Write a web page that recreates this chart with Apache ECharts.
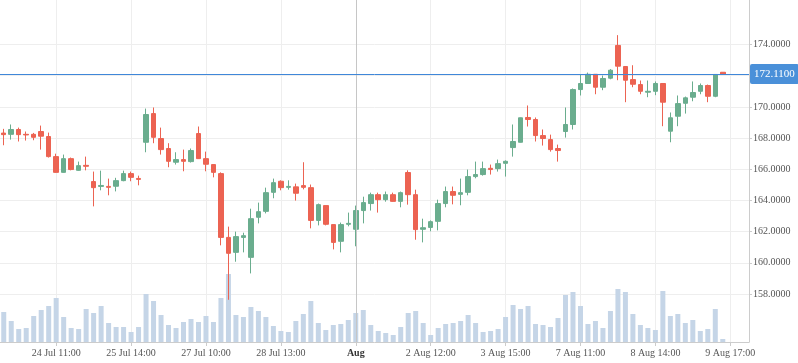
<!DOCTYPE html>
<html><head><meta charset="utf-8">
<script src="https://cdn.jsdelivr.net/npm/echarts@6/dist/echarts.min.js"></script>
<style>html,body{margin:0;padding:0;background:#fff}#c{width:798px;height:363px}</style>
</head><body><div id="c"></div>
<script>
// x-axis tick labels (every 10th slot starting at slot 7)
const tickLabels = ['24 Jul 11:00','25 Jul 14:00','27 Jul 10:00','28 Jul 13:00','Aug','2 Aug 12:00','3 Aug 15:00','7 Aug 11:00','8 Aug 14:00','9 Aug 17:00'];
const tickStart = 7, tickStep = 10, slotCount = 100;
const monthMarkSlot = 47;
const lastPrice = 172.11;

const open = [168.32,168.24,168.55,168.24,168.24,168.42,168.10,166.81,165.80,166.68,
165.93,166.25,165.21,164.90,164.90,164.91,165.27,165.72,165.41,167.73,
169.57,167.97,167.33,166.45,166.62,166.49,168.29,166.68,166.30,165.72,
161.63,160.67,161.63,160.35,162.92,163.30,164.52,165.23,164.84,164.87,
164.95,164.82,162.72,163.67,162.45,161.38,162.47,162.15,163.35,163.80,
164.37,164.05,164.37,163.94,165.79,164.37,162.15,162.27,162.66,163.80,
164.57,164.39,164.52,165.53,165.66,166.06,166.04,166.38,167.39,167.73,
169.32,169.19,168.16,167.90,167.33,168.42,168.87,171.11,171.50,172.09,
171.26,171.84,173.94,172.59,171.75,171.43,170.94,171.00,171.50,168.44,
169.40,170.23,170.62,171.00,171.37,170.68,172.22];
const close = [168.22,168.55,168.22,168.20,168.05,168.12,166.81,165.80,166.68,165.98,
166.23,166.19,164.82,164.96,164.84,165.27,165.72,165.48,165.35,169.51,
168.05,167.26,166.51,166.62,166.51,167.20,166.68,166.32,165.80,161.63,
160.61,161.68,161.74,162.83,163.28,164.50,165.14,164.82,164.90,164.46,
164.84,162.72,163.73,162.47,161.31,162.45,162.53,163.35,163.86,164.37,
164.05,164.37,163.94,164.50,164.37,162.13,162.25,162.64,163.80,164.57,
164.33,164.50,165.53,165.66,166.04,165.98,166.36,166.51,167.78,169.30,
169.19,168.16,167.97,167.26,167.20,168.87,171.11,171.50,172.09,171.26,
171.82,172.35,172.61,171.71,171.45,171.00,171.00,171.50,170.30,169.30,
170.21,170.58,170.92,171.37,170.68,172.08,172.11];
const low = [167.54,167.90,167.78,167.84,167.86,167.26,166.75,165.78,165.78,165.93,
165.90,165.93,163.62,164.65,164.33,164.58,165.23,165.23,164.97,167.09,
167.67,166.94,166.13,166.30,165.87,166.43,166.66,165.87,165.48,161.12,
157.63,160.07,160.67,159.32,162.53,163.17,164.14,164.65,164.69,163.99,
164.71,162.21,162.40,162.40,160.86,160.67,162.34,161.06,162.53,163.35,
163.22,163.92,163.92,163.56,163.73,161.48,161.31,162.02,162.08,163.56,
163.75,163.69,164.33,165.42,165.59,165.66,165.85,165.53,166.81,167.71,
168.74,167.78,167.52,167.13,166.49,168.03,168.55,170.73,171.48,170.81,
171.07,171.77,171.71,170.30,171.26,170.81,170.62,170.75,168.76,167.73,
168.76,169.57,170.36,170.81,170.30,170.62,172.11];
const high = [168.59,168.87,168.67,168.42,168.33,168.80,168.35,167.00,166.94,166.75,
166.49,166.81,165.85,165.91,165.40,165.45,165.91,165.85,165.59,169.89,
169.96,168.67,167.67,167.09,167.26,167.33,168.74,167.13,166.32,165.80,
162.32,162.00,161.93,163.47,163.86,164.82,165.40,165.29,165.29,165.08,
166.45,165.02,163.80,163.67,162.45,162.58,163.22,163.67,164.24,164.50,
164.50,164.57,164.50,164.57,165.93,164.69,162.83,162.72,164.05,164.89,
164.89,165.40,165.98,166.49,166.49,166.30,166.62,166.57,168.87,169.32,
170.09,169.32,168.55,168.22,167.58,169.96,171.18,172.09,172.20,172.09,
172.01,172.42,174.60,172.61,172.67,171.69,171.69,171.63,171.52,169.64,
170.73,170.66,171.63,171.50,171.43,172.08,172.22];
const volume = [30,21,13,14,26,32,36,44,25,14,
13,33,29,36,19,15,15,10,15,48,
41,27,17,14,20,23,20,26,20,44,
68,27,25,35,31,25,16,11,10,21,
28,41,19,12,17,18,22,29,32,17,
11,9,7,15,29,31,19,7,14,18,
19,21,27,19,10,11,13,25,37,33,
36,18,17,15,24,47,50,36,18,21,
14,31,53,50,28,17,14,12,51,26,
28,19,22,11,13,33,3];

const categories = [];
for (let i = 0; i < slotCount; i++) categories.push('p' + i);
const ohlc = open.map((o, i) => [o, close[i], low[i], high[i]]);
const isTick = (i) => i >= tickStart && (i - tickStart) % tickStep === 0;
const FONT = '"Liberation Serif", "DejaVu Serif", serif';
const GRID = '#eeeeee', AXIS = '#cccccc', TXT = '#555555';
const UP = '#6aad8e', DOWN = '#ec6352';

const chart = echarts.init(document.getElementById('c'), null, {renderer: 'canvas'});
chart.setOption({
  animation: false,
  grid: [
    {left: 0, right: 49, top: 0, height: 342},
    {left: 0, right: 49, top: 44.5, height: 249.5}
  ],
  xAxis: [
    {
      type: 'category', gridIndex: 0, data: categories, boundaryGap: true,
      axisLine: {show: true, lineStyle: {color: AXIS}},
      axisTick: {show: true, interval: (i) => isTick(i), alignWithLabel: true, length: 4, lineStyle: {color: AXIS}},
      axisLabel: {
        interval: (i) => isTick(i), margin: 6, fontFamily: FONT, fontSize: 10, color: TXT,
        formatter: (v, i) => {
          const t = tickLabels[(i - tickStart) / tickStep];
          return t === 'Aug' ? '{b|Aug}' : t;
        },
        rich: {b: {fontWeight: 'bold', fontFamily: FONT, fontSize: 10, color: '#333'}}
      },
      splitLine: {show: true, interval: (i) => isTick(i), alignWithLabel: true, lineStyle: {color: GRID, width: 1}}
    },
    {type: 'category', gridIndex: 1, data: categories, boundaryGap: true, show: false}
  ],
  yAxis: [
    {type: 'value', gridIndex: 0, position: 'right', min: 0, max: 342,
      axisLine: {show: true, lineStyle: {color: AXIS}}, axisTick: {show: false},
      axisLabel: {show: false}, splitLine: {show: false}},
    {type: 'value', gridIndex: 1, position: 'right', min: 158, max: 174, interval: 2,
      axisLine: {show: false},
      axisTick: {show: true, length: 3, lineStyle: {color: AXIS}},
      axisLabel: {formatter: (v) => v.toFixed(4), margin: 4, fontFamily: FONT, fontSize: 10, color: TXT},
      splitLine: {show: true, lineStyle: {color: GRID, width: 1}}}
  ],
  series: [
    {
      type: 'bar', xAxisIndex: 0, yAxisIndex: 0, data: volume, barWidth: 5,
      itemStyle: {color: '#c5d5e7'}, silent: true,
      markLine: {
        silent: true, symbol: ['none', 'none'], label: {show: false},
        lineStyle: {color: '#c6c6c6', type: 'solid', width: 1},
        data: [{xAxis: categories[monthMarkSlot]}]
      }
    },
    {
      type: 'candlestick', xAxisIndex: 1, yAxisIndex: 1, data: ohlc, barWidth: 5, clip: false,
      itemStyle: {color: UP, color0: DOWN, borderColor: UP, borderColor0: DOWN, borderWidth: 1},
      markLine: {
        silent: true, symbol: ['none', 'none'],
        lineStyle: {color: '#3f87d9', type: 'solid', width: 1},
        label: {
          show: true, position: 'end', distance: 1, formatter: () => lastPrice.toFixed(4),
          backgroundColor: '#4a90d9', color: '#ffffff', padding: [4, 4, 4, 4], borderRadius: 2,
          fontFamily: FONT, fontSize: 11, lineHeight: 12
        },
        data: [{yAxis: lastPrice}]
      }
    }
  ]
});
</script></body></html>
